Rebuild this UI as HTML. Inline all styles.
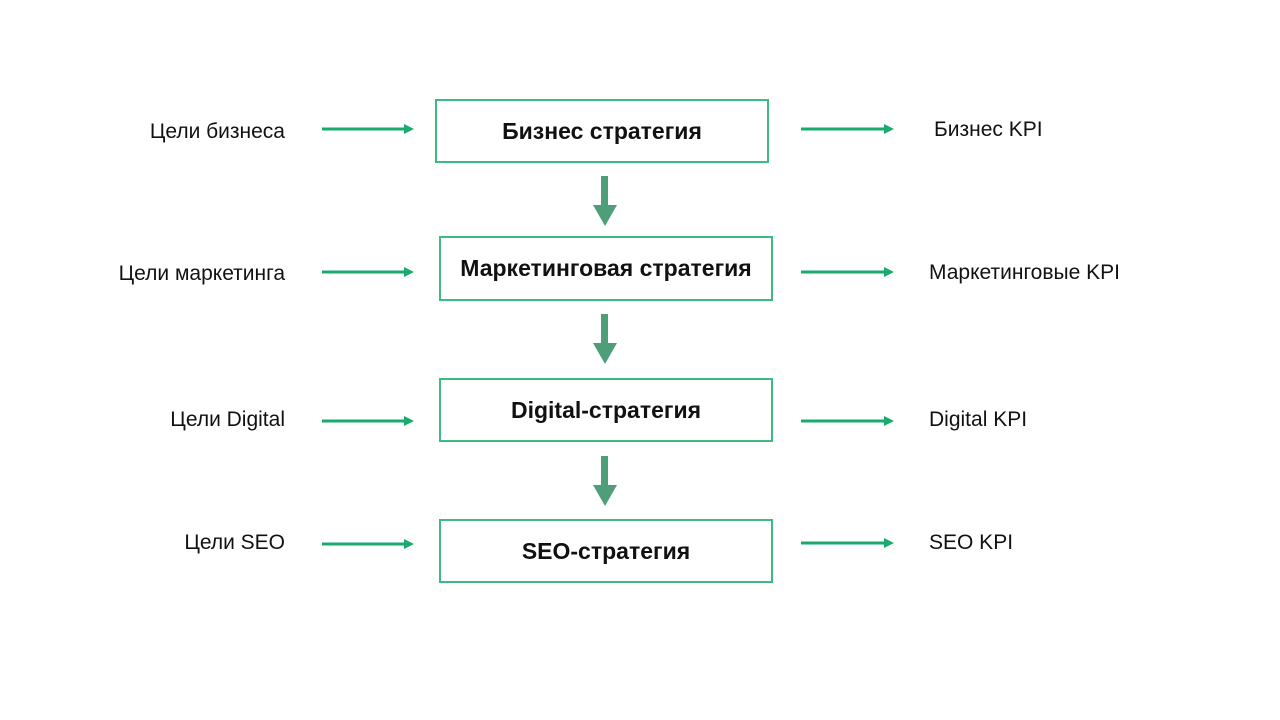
<!DOCTYPE html>
<html><head><meta charset="utf-8"><style>
body{margin:0;width:1280px;height:720px;background:#fff;font-family:"Liberation Sans","DejaVu Sans",sans-serif;position:relative;overflow:hidden}
.box{position:absolute;border:2px solid #3dbb82;box-sizing:border-box;display:flex;align-items:center;justify-content:center;font-weight:bold;font-size:23px;color:#111}
.l{position:absolute;font-size:21px;color:#111;white-space:nowrap}
svg{position:absolute;left:0;top:0}
</style></head><body>
<div class="box" style="left:435px;top:99px;width:334px;height:64px">Бизнес стратегия</div>
<div class="box" style="left:439px;top:236px;width:334px;height:65px">Маркетинговая стратегия</div>
<div class="box" style="left:439px;top:378px;width:334px;height:64px">Digital-стратегия</div>
<div class="box" style="left:439px;top:519px;width:334px;height:64px">SEO-стратегия</div>

<div class="l" style="right:995px;top:120px">Цели бизнеса</div>
<div class="l" style="right:995px;top:262px">Цели маркетинга</div>
<div class="l" style="right:995px;top:408px">Цели Digital</div>
<div class="l" style="right:995px;top:531px">Цели SEO</div>
<div class="l" style="left:934px;top:118px">Бизнес KPI</div>
<div class="l" style="left:929px;top:261px">Маркетинговые KPI</div>
<div class="l" style="left:929px;top:408px">Digital KPI</div>
<div class="l" style="left:929px;top:531px">SEO KPI</div>

<svg width="1280" height="720">
<g stroke="#1aaa6e" stroke-width="3" fill="#1aaa6e">
<line x1="322" y1="129" x2="405" y2="129"/><polygon points="404,124 414,129 404,134" stroke="none"/>
<line x1="322" y1="272" x2="405" y2="272"/><polygon points="404,267 414,272 404,277" stroke="none"/>
<line x1="322" y1="421" x2="405" y2="421"/><polygon points="404,416 414,421 404,426" stroke="none"/>
<line x1="322" y1="544" x2="405" y2="544"/><polygon points="404,539 414,544 404,549" stroke="none"/>
<line x1="801" y1="129" x2="885" y2="129"/><polygon points="884,124 894,129 884,134" stroke="none"/>
<line x1="801" y1="272" x2="885" y2="272"/><polygon points="884,267 894,272 884,277" stroke="none"/>
<line x1="801" y1="421" x2="885" y2="421"/><polygon points="884,416 894,421 884,426" stroke="none"/>
<line x1="801" y1="543" x2="885" y2="543"/><polygon points="884,538 894,543 884,548" stroke="none"/>
</g>
<g fill="#4f9e7a">
<rect x="601" y="176" width="7" height="30"/><polygon points="593,205 617,205 605,226"/>
<rect x="601" y="314" width="7" height="30"/><polygon points="593,343 617,343 605,364"/>
<rect x="601" y="456" width="7" height="30"/><polygon points="593,485 617,485 605,506"/>
</g>
</svg>
</body></html>
